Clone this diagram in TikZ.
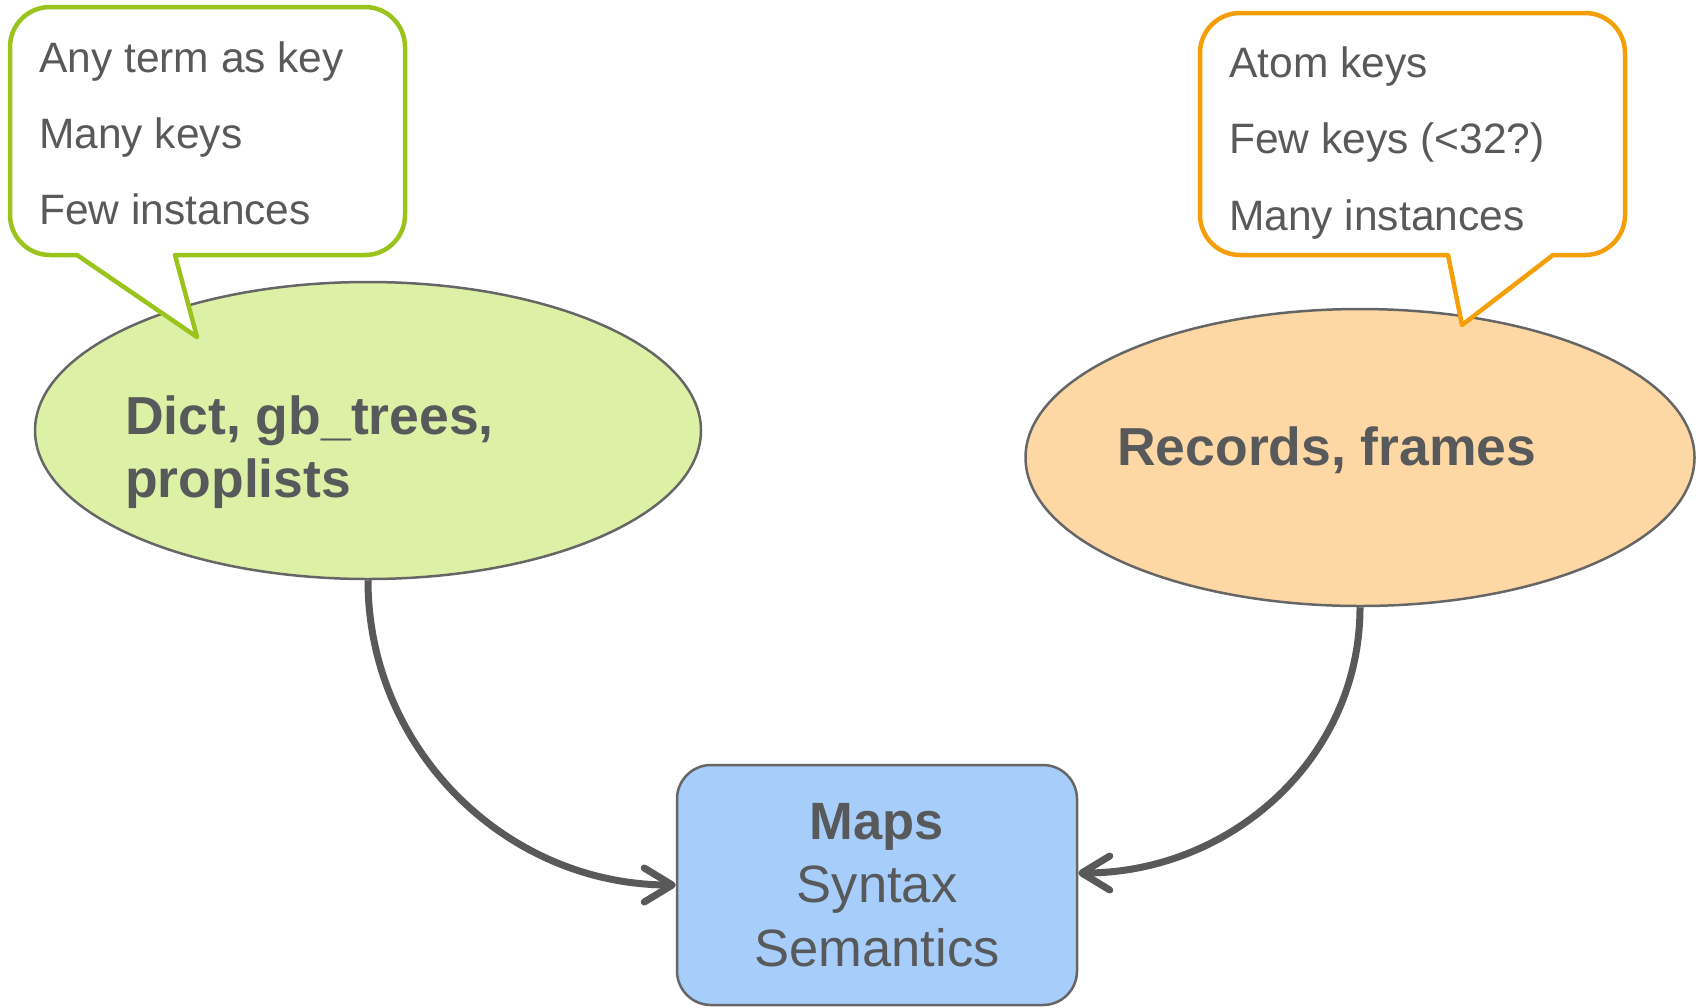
\documentclass[tikz,border=0pt]{standalone}
\usepackage{fontspec}
\setmainfont{Liberation Sans}
\usetikzlibrary{arrows.meta, shapes.geometric}

\definecolor{txtgray}{HTML}{58595B}
\definecolor{greenline}{HTML}{9AC31C}
\definecolor{greenfill}{HTML}{DDF1A6}
\definecolor{orangeline}{HTML}{F49F0A}
\definecolor{orangefill}{HTML}{FDD8A5}
\definecolor{bluefill}{HTML}{A7CDFB}
\definecolor{edgegray}{HTML}{666666}
\definecolor{arrowgray}{HTML}{595959}

\tikzset{
    blob/.style={ellipse, draw=edgegray, line width=2.5pt, inner sep=0pt},
    note/.style={font=\fontsize{42.5}{50}\selectfont, text=txtgray, anchor=base west, inner sep=0pt},
    bigtext/.style={font=\fontsize{53.5}{63}\selectfont\bfseries, text=txtgray, inner sep=0pt},
    link/.style={arrowgray, line width=7pt, -{Straight Barb[length=28pt, width=34pt, round]}},
}

\begin{document}
\begin{tikzpicture}[x=1pt, y=1pt]
    \useasboundingbox (0,0) rectangle (1696,-1007);
    \node[blob, fill=greenfill, minimum width=666pt, minimum height=297pt] (dict) at (368, -430.5) {};
    \node[blob, fill=orangefill, minimum width=669pt, minimum height=297pt] (records) at (1360, -457.5) {};
    \node[bigtext, anchor=west, align=left] (dicttext) at (125, -452) {Dict, gb\_trees,\\proplists};
    \node[bigtext, anchor=base west] (recordstext) at (1117, -465) {Records, frames};
    \node[draw=edgegray, fill=bluefill, line width=2.5pt, rounded corners=34pt,
          minimum width=400pt, minimum height=240pt, align=center, text=txtgray,
          font=\fontsize{52.5}{63.5}\selectfont] (maps) at (877, -885)
          {\textbf{Maps}\\Syntax\\Semantics};
    % callouts
    \draw[greenline, line width=4.5pt, fill=white, line join=round]
        (77,-255) [rounded corners=40pt] -- (10,-255) -- (10,-7) -- (405,-7) -- (405,-255)
        [sharp corners] -- (175,-255) -- (197,-337) -- cycle;
    \draw[orangeline, line width=4.5pt, fill=white, line join=round]
        (1448,-255) [rounded corners=40pt] -- (1200,-255) -- (1200,-13) -- (1625,-13) -- (1625,-255)
        [sharp corners] -- (1553,-255) -- (1462,-325) -- cycle;
    \node[note] (anyterm) at (39, -72) {Any term as key};
    \node[note] (manykeys) at (39, -148) {Many keys};
    \node[note] (fewinst) at (39, -224) {Few instances};
    \node[note] (atomkeys) at (1229, -77) {Atom keys};
    \node[note] (fewkeys) at (1229, -153) {Few keys (<32?)};
    \node[note] (manyinst) at (1229, -230) {Many instances};
    % arrows
    \draw[link] (dict.south) to[out=-90, in=180] (maps.west);
    \draw[link] (records.south) to[out=-90, in=0] ([yshift=12pt]maps.east);
\end{tikzpicture}
\end{document}
